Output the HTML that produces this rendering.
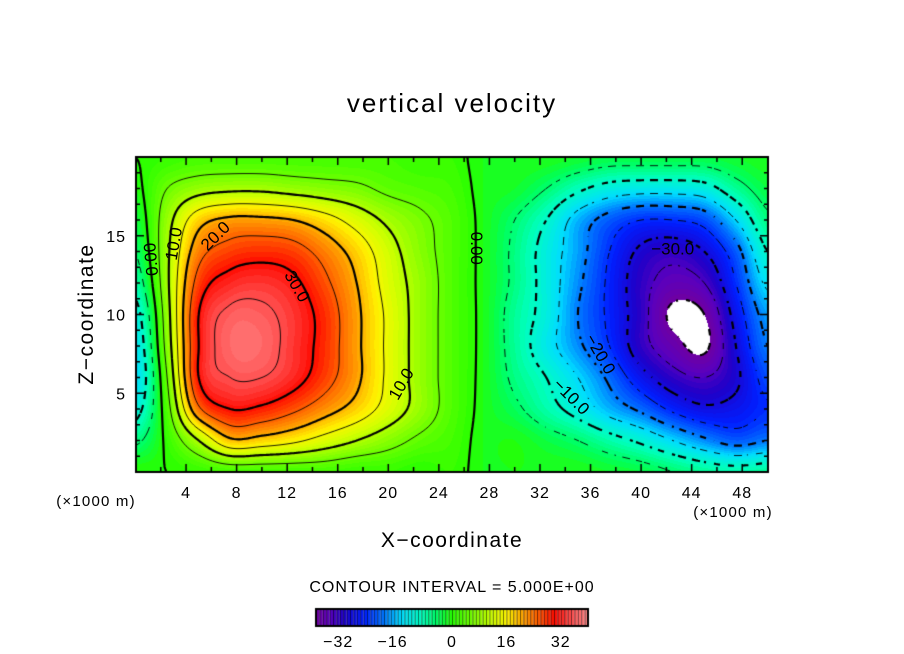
<!DOCTYPE html>
<html><head><meta charset="utf-8">
<style>
html,body{margin:0;padding:0;background:#fff;}
#wrap{position:relative;width:904px;height:654px;overflow:hidden;font-family:"Liberation Sans",sans-serif;}
canvas{position:absolute;left:0;top:0;}
svg{position:absolute;left:0;top:0;}
</style></head>
<body>
<div id="wrap">
<canvas id="cv" width="904" height="654"></canvas>
<svg id="sv" width="904" height="654">
<text x="452" y="112" font-size="26" letter-spacing="2" text-anchor="middle" font-family="Liberation Sans, sans-serif">vertical velocity</text>
<text transform="translate(93,314) rotate(-90)" font-size="21" letter-spacing="1.5" text-anchor="middle" font-family="Liberation Sans, sans-serif">Z−coordinate</text>
<text x="452" y="547" font-size="21" letter-spacing="1.5" text-anchor="middle" font-family="Liberation Sans, sans-serif">X−coordinate</text>
<text x="96" y="506" font-size="15" letter-spacing="1.2" text-anchor="middle" font-family="Liberation Sans, sans-serif">(×1000 m)</text>
<text x="733" y="517" font-size="15" letter-spacing="1.2" text-anchor="middle" font-family="Liberation Sans, sans-serif">(×1000 m)</text>
<text x="452" y="592" font-size="16" letter-spacing="1" text-anchor="middle" font-family="Liberation Sans, sans-serif">CONTOUR INTERVAL = 5.000E+00</text>
<g id="ticklabels" font-size="16" letter-spacing="1" font-family="Liberation Sans, sans-serif"></g>
<g id="clabels" font-size="17" font-family="Liberation Sans, sans-serif"></g>
</svg>
</div>
<script>
// grid coordinates (km)
const xs = [0,2.5,5,7.5,10,12.5,15,17.5,20,22.5,25,27.5,30,32.5,35,37.5,40,42.5,45,47.5,50];
const zs = [0,2,4,6,8,10,12,14,16,18,20];
// vertical velocity rows, one per z level
const w_z0  = [0,0,1,2,2,2,2,1,1,0,1,-1,-1,-1,-1,-2,-3,-5,-7,-8,-7];
const w_z2  = [-6,1,10,19,18,16,13,10,7,4,2,-1,-1,-3,-5,-8,-11,-15,-19,-22,-20];
const w_z4  = [-12,3,24,30,29,26,22,18,13,8,3,-1,-4,-8,-12,-17,-21,-26,-29,-28,-25];
const w_z6  = [-15,5,30,35,35,32,27,21,14,8,3,-1,-6,-10,-15,-21,-28,-33,-35,-31,-23];
const w_z8  = [-14,7,30,37,37,33,28,21,14,8,3,-1,-7,-13,-19,-25,-33,-38,-41,-30,-20];
const w_z10 = [-12,8,30,36,36,33,28,21,14,8,3,-1,-7,-12,-20,-26,-33,-41,-40,-28,-18];
const w_z12 = [-8,9,27,32,33,31,26,20,13,8,3,-1,-6,-12,-19,-26,-33,-37,-35,-25,-14];
const w_z14 = [-5,9,23,27,28,27,23,18,12,7,3,-1,-6,-12,-18,-25,-31,-33,-30,-22,-10];
const w_z16 = [-3,8,18,21,21,20,17,13,9,6,3,-1,-5,-10,-17,-22,-25,-25,-23,-15,-6];
const w_z18 = [-1,5,8,9,9,8,7,6,4,3,2,-1,-2,-5,-9,-12,-13,-13,-12,-7,-3];
const w_z20 = [0,1,2,2,2,2,2,2,2,1,1,-1,-1,-1,-2,-3,-3,-3,-3,-2,-1];
const xTicks = [4,8,12,16,20,24,28,32,36,40,44,48];
const zTicks = [5,10,15];
const cbTicks = [-32,-16,0,16,32];
const levels = [-40,-35,-30,-25,-20,-15,-10,-5,0,5,10,15,20,25,30,35];
const labelText = ["0.00","10.0","20.0","30.0","10.0","0.00","−20.0","−10.0","−30.0"];
const labelX = [1.2,3.0,6.3,12.8,21.0,27.0,36.8,34.5,42.5];
const labelZ = [13.5,14.5,15.0,11.8,5.6,14.2,7.5,4.8,14.2];
const labelRot = [-95,-80,-45,60,-60,90,60,45,0];

const W = [w_z0,w_z2,w_z4,w_z6,w_z8,w_z10,w_z12,w_z14,w_z16,w_z18,w_z20];
const X0=135.5, X1=767.5, Y0=472, Y1=157;
const sx = v => X0 + (v-0)/(50-0)*(X1-X0);
const sz = v => Y0 - (v-0)/(20-0)*(Y0-Y1);

function cr(p0,p1,p2,p3,t){return 0.5*((2*p1)+(-p0+p2)*t+(2*p0-5*p1+4*p2-p3)*t*t+(-p0+3*p1-3*p2+p3)*t*t*t);}
function field(x,z){
  let fi=(x-xs[0])/2.5, fj=(z-zs[0])/2;
  fi=Math.max(0,Math.min(xs.length-1.0001,fi)); fj=Math.max(0,Math.min(zs.length-1.0001,fj));
  const i=Math.floor(fi), j=Math.floor(fj), tx=fi-i, tz=fj-j;
  const ci=k=>Math.max(0,Math.min(xs.length-1,k)), cj=k=>Math.max(0,Math.min(zs.length-1,k));
  const r=[];
  for(let m=-1;m<=2;m++){const row=W[cj(j+m)];r.push(cr(row[ci(i-1)],row[ci(i)],row[ci(i+1)],row[ci(i+2)],tx));}
  return cr(r[0],r[1],r[2],r[3],tz);
}
const stops=[[-40,[112,0,160]],[-36,[90,0,190]],[-32,[30,0,200]],[-26,[0,30,255]],[-20,[0,120,255]],[-15,[0,220,255]],[-9,[0,255,190]],[-4,[0,255,90]],[0,[40,255,0]],[6,[120,255,0]],[12,[210,255,0]],[16,[255,245,0]],[21,[255,160,0]],[26,[255,80,0]],[30,[255,10,0]],[35,[255,80,80]],[40,[255,140,140]]];
function col(v){
  if(v<-40) return [255,255,255];
  v=Math.floor(v)+0.5;
  if(v>=40) v=39.9;
  for(let k=0;k<stops.length-1;k++){const a=stops[k],b=stops[k+1];
    if(v>=a[0]&&v<=b[0]){const t=(v-a[0])/(b[0]-a[0]);return a[1].map((c,n)=>Math.round(c+(b[1][n]-c)*t));}}
  return stops[stops.length-1][1];
}
const cv=document.getElementById('cv'); const ctx=cv.getContext('2d');
const px0=136,px1=768,py0=157,py1=472;
const img=ctx.createImageData(px1-px0,py1-py0);
for(let y=py0;y<py1;y++)for(let x=px0;x<px1;x++){
  const xv=(x+0.5-X0)/(X1-X0)*50, zv=(Y0-(y+0.5))/(Y0-Y1)*20;
  const c=col(field(xv,zv)); const o=((y-py0)*(px1-px0)+(x-px0))*4;
  img.data[o]=c[0];img.data[o+1]=c[1];img.data[o+2]=c[2];img.data[o+3]=255;}
ctx.putImageData(img,px0,py0);
// contours via marching squares
const st=2, nx=Math.floor((px1-px0)/st)+1, ny=Math.floor((py1-py0)/st)+1;
const G=[];
for(let j=0;j<ny;j++){G.push([]);for(let i=0;i<nx;i++){const x=px0+i*st,y=py0+j*st;G[j].push(field((x-X0)/(X1-X0)*50,(Y0-y)/(Y0-Y1)*20));}}
ctx.save();ctx.beginPath();ctx.rect(px0,py0,px1-px0,py1-py0);ctx.clip();
ctx.strokeStyle='#000';ctx.lineCap='butt';
levels.forEach(L=>{
  const thick=(L%10===0); ctx.lineWidth=thick?2.2:0.9;
  ctx.beginPath();
  for(let j=0;j<ny-1;j++){
    for(let i=0;i<nx-1;i++){
      const v=[G[j][i],G[j][i+1],G[j+1][i+1],G[j+1][i]];
      const p=[[i,j],[i+1,j],[i+1,j+1],[i,j+1]];
      const pts=[];
      for(let e=0;e<4;e++){const a=v[e],b=v[(e+1)%4];
        if((a<L)!==(b<L)){const t=(L-a)/(b-a);const A=p[e],B=p[(e+1)%4];pts.push([px0+(A[0]+(B[0]-A[0])*t)*st,py0+(A[1]+(B[1]-A[1])*t)*st]);}}
      for(let k=0;k+1<pts.length;k+=2){
        const mx=(pts[k][0]+pts[k+1][0])/2,my=(pts[k][1]+pts[k+1][1])/2;
        if(L<0 && (Math.floor(mx/7)+Math.floor(my/7))%2===1) continue;
        ctx.moveTo(pts[k][0],pts[k][1]);ctx.lineTo(pts[k+1][0],pts[k+1][1]);}
    }
  }
  ctx.stroke();
});
ctx.restore();
// frame and ticks
ctx.strokeStyle='#000';ctx.lineWidth=2;ctx.strokeRect(136,157,632,315);
ctx.lineWidth=1.5;ctx.beginPath();
for(let v=2;v<50;v+=2){const x=sx(v),len=(v%4===0)?8:5;ctx.moveTo(x,472);ctx.lineTo(x,472-len);ctx.moveTo(x,157);ctx.lineTo(x,157+len);}
for(let v=1;v<20;v++){const y=sz(v),len=(v%5===0)?8:4;ctx.moveTo(136,y);ctx.lineTo(136+len,y);ctx.moveTo(768,y);ctx.lineTo(768-len,y);}
ctx.stroke();
// colorbar
const cbx0=316,cbx1=588,cby0=609,cby1=626;
const nb=80,bw=(cbx1-cbx0)/nb;
for(let k=0;k<nb;k++){const v=-40+k+0.5;const c=col(v);ctx.fillStyle=`rgb(${c[0]},${c[1]},${c[2]})`;ctx.fillRect(cbx0+k*bw,cby0,bw,cby1-cby0);
  ctx.fillStyle='rgba(0,0,0,0.55)';ctx.fillRect(cbx0+k*bw,cby0,1,cby1-cby0);}
ctx.lineWidth=2;ctx.strokeRect(cbx0,cby0,cbx1-cbx0,cby1-cby0);

const NS='http://www.w3.org/2000/svg';
const tl=document.getElementById('ticklabels');
xTicks.forEach(v=>{const t=document.createElementNS(NS,'text');t.setAttribute('x',sx(v));t.setAttribute('y',498);t.setAttribute('text-anchor','middle');t.textContent=v;


tl.appendChild(t);});
zTicks.forEach(v=>{const t=document.createElementNS(NS,'text');t.setAttribute('x',126);t.setAttribute('y',sz(v)+6);t.setAttribute('text-anchor','end');t.textContent=v;


tl.appendChild(t);});
cbTicks.forEach(v=>{const t=document.createElementNS(NS,'text');t.setAttribute('x',cbx0+(v+40)/80*(cbx1-cbx0)+(v<0?-5:0));t.setAttribute('y',647);t.setAttribute('text-anchor','middle');t.textContent=(v<0?'−'+(-v):v);


tl.appendChild(t);});
const cl=document.getElementById('clabels');
labelText.forEach((s,k)=>{const t=document.createElementNS(NS,'text');const x=sx(labelX[k]),y=sz(labelZ[k]);
t.setAttribute('transform',`translate(${x},${y}) rotate(${labelRot[k]})`);t.setAttribute('text-anchor','middle');t.setAttribute('dy','6');t.textContent=s;


cl.appendChild(t);});
</script>
</body></html>
